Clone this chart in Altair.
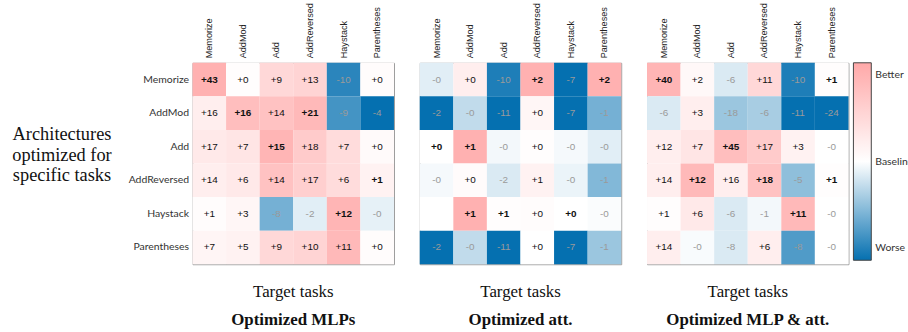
import altair as alt
import pandas as pd

tasks = ["Memorize", "AddMod", "Add", "AddReversed", "Haystack", "Parentheses"]
panel_names = ["Optimized MLPs", "Optimized att.", "Optimized MLP & att."]

# Change vs. baseline for each (architecture row, target-task column)
mlp_labels = [
    ["+43", "+0", "+9", "+13", "-10", "+0"],
    ["+16", "+16", "+14", "+21", "-9", "-4"],
    ["+17", "+7", "+15", "+18", "+7", "+0"],
    ["+14", "+6", "+14", "+17", "+6", "+1"],
    ["+1", "+3", "-8", "-2", "+12", "-0"],
    ["+7", "+5", "+9", "+10", "+11", "+0"],
]
att_labels = [
    ["-0", "+0", "-10", "+2", "-7", "+2"],
    ["-2", "-0", "-11", "+0", "-7", "-1"],
    ["+0", "+1", "-0", "+0", "-0", "-0"],
    ["-0", "+0", "-2", "+1", "-0", "-1"],
    ["", "+1", "+1", "+0", "+0", "-0"],
    ["-2", "-0", "-11", "+0", "-7", "-1"],
]
both_labels = [
    ["+40", "+2", "-6", "+11", "-10", "+1"],
    ["-6", "+3", "-18", "-6", "-11", "-24"],
    ["+12", "+7", "+45", "+17", "+3", "-0"],
    ["+14", "+12", "+16", "+18", "-5", "+1"],
    ["+1", "+6", "-6", "-1", "+11", "-0"],
    ["+14", "-0", "-8", "+6", "-8", "-0"],
]

# Relative improvement used for shading (-1 worse ... 0 baseline ... +1 better)
mlp_shade = [
    [0.90, 0.02, 0.45, 0.50, -0.85, 0.04],
    [0.20, 0.75, 0.70, 0.80, -0.75, -1.00],
    [0.25, 0.30, 0.85, 0.60, 0.40, 0.06],
    [0.20, 0.25, 0.70, 0.55, 0.40, 0.15],
    [0.03, 0.10, -0.55, -0.12, 0.85, -0.10],
    [0.12, 0.15, 0.45, 0.50, 0.80, 0.04],
]
att_shade = [
    [-0.12, 0.20, -0.90, 0.90, -1.00, 0.90],
    [-1.00, -0.25, -1.00, 0.10, -1.00, -0.55],
    [0.00, 0.90, -0.05, 0.02, -0.04, -0.12],
    [-0.04, 0.05, -0.15, 0.15, -0.08, -0.50],
    [0.00, 0.90, 0.02, 0.04, 0.00, -0.02],
    [-1.00, -0.25, -1.00, 0.00, -1.00, -0.40],
]
both_shade = [
    [0.85, 0.08, -0.15, 0.45, -0.90, 0.02],
    [-0.15, 0.20, -0.40, -0.35, -1.00, -1.00],
    [0.20, 0.30, 0.75, 0.60, 0.15, 0.00],
    [0.20, 0.80, 0.20, 0.70, -0.45, 0.02],
    [0.02, 0.25, -0.15, -0.05, 0.80, 0.00],
    [0.20, -0.03, -0.15, 0.20, -0.70, 0.00],
]


def build_frame(labels, shades):
    rows = []
    for i, arch in enumerate(tasks):
        for j, target in enumerate(tasks):
            rows.append(dict(arch=arch, target=target,
                             label=labels[i][j], shade=shades[i][j]))
    df = pd.DataFrame(rows)
    # best entry of each target column is shown in bold
    key = df["label"].map(
        lambda s: (float(s) + (1e-3 if s.startswith("+") else 0.0)) if s else -1e9)
    col_max = key.groupby(df["target"]).transform("max")
    df["best"] = (key == col_max) & df["label"].str.startswith("+")
    return df


color_scale = alt.Scale(domain=[-1, 0, 1], range=["#0570b0", "#ffffff", "#ffa8a8"],
                        interpolate="rgb")

PAD_LEFT = 11
PAD_TOP = 0
CELL = 203

legend = alt.Legend(
    title=None, orient="none", direction="vertical",
    legendX=3 * CELL + 2 * 24 + 9, legendY=0,
    gradientLength=199, gradientThickness=18,
    gradientStrokeColor="#444", gradientStrokeWidth=1,
    values=[-0.88, 0, 0.88],
    labelExpr="datum.value > 0.5 ? 'Better' : (datum.value < -0.5 ? 'Worse' : 'Baseline')",
    labelFont="Lato", labelFontSize=10.5, labelColor="#333", labelOffset=4,
)

row_axis = alt.Axis(
    title=["Architectures", "optimized for", "specific tasks"],
    titleAngle=0, titleAlign="center", titleBaseline="middle",
    titleX=-132, titleY=71, titleLineHeight=21,
    titleFont="Liberation Serif", titleFontSize=18.5, titleFontWeight="normal",
    titleColor="#111",
    labelFont="Lato", labelFontSize=10.5, labelColor="#333", labelPadding=4,
    ticks=False, domain=False,
)

col_axis = alt.Axis(
    orient="top", title=None, labelAngle=-90, labelPadding=5,
    labelFont="Liberation Sans", labelFontSize=9.2, labelColor="#222",
    ticks=False, domain=False,
)


def panel(df, name, show_rows):
    base = alt.Chart(df).encode(
        x=alt.X("target:N", sort=tasks, axis=col_axis),
        y=alt.Y("arch:N", sort=tasks, axis=row_axis if show_rows else None),
    )
    cells = base.mark_rect().encode(
        color=alt.Color("shade:Q", scale=color_scale, legend=legend)
    )
    text_color = alt.condition("indexof(datum.label, '-') == 0",
                               alt.value("#9a9a9a"), alt.value("#111"))
    plain = base.transform_filter("!datum.best").mark_text(
        font="Liberation Sans", fontSize=10).encode(text="label:N", color=text_color)
    bold = base.transform_filter("datum.best").mark_text(
        font="Liberation Sans", fontSize=10, fontWeight="bold").encode(
        text="label:N", color=alt.value("#111"))
    return alt.layer(cells, plain, bold).properties(
        width=CELL, height=CELL,
        title=alt.TitleParams(
            text="Target tasks", subtitle=name, orient="bottom", anchor="middle",
            font="Liberation Serif", fontSize=17, fontWeight="normal", color="#111",
            subtitleFont="Liberation Serif", subtitleFontSize=17,
            subtitleFontWeight="bold", subtitleColor="#111", subtitlePadding=11,
            offset=20,
        ),
    )


frames = [build_frame(mlp_labels, mlp_shade),
          build_frame(att_labels, att_shade),
          build_frame(both_labels, both_shade)]

chart = alt.hconcat(
    panel(frames[0], panel_names[0], True),
    panel(frames[1], panel_names[1], False),
    panel(frames[2], panel_names[2], False),
    spacing=24,
).properties(
    # the legend's longest label runs slightly past the right edge of the figure
    padding={"left": PAD_LEFT, "top": PAD_TOP, "right": -6, "bottom": 0},
    background="white",
).configure_view(stroke="#999", strokeWidth=1)

chart.save("out.html", embed_options={"renderer": "svg", "actions": False})
